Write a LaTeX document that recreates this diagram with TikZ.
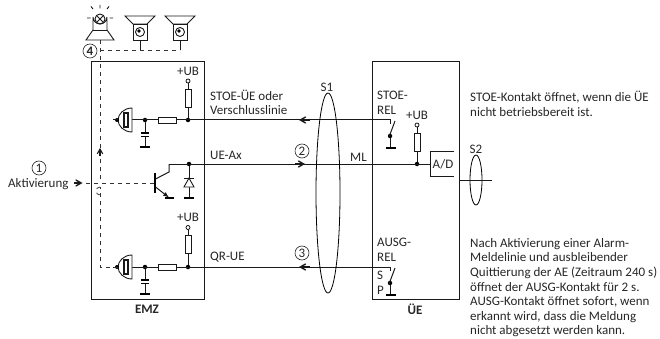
\documentclass[tikz,border=0pt]{standalone}
\usepackage{fontspec}
\setmainfont{Carlito}
\usetikzlibrary{positioning,arrows}
\tikzset{
	wire/.style={line width=1pt,black!90},
	chev/.style={wire,->,>=angle 60,line width=1.4pt},
	dashline/.style={line width=0.8pt,dash pattern=on 4pt off 4pt,black!80},
	widget/.style={draw,line width=0.9pt,black!90,inner sep=0pt},
	bar/.style={line width=1.6pt,black},
	resH/.style={widget,fill=white,minimum width=18pt,minimum height=6pt},
	resV/.style={widget,fill=white,minimum width=6pt,minimum height=18pt},
	dotnode/.style={circle,fill=black,inner sep=0pt,minimum size=4.5pt},
	opencirc/.style={circle,draw,fill=white,line width=0.7pt,inner sep=0pt,minimum size=4pt},
	numcirc/.style={circle,draw,line width=0.6pt,black!85,fill=white,inner sep=0pt,minimum size=14pt,font=\fontsize{13}{13}\selectfont},
	unit/.style={draw,line width=1.4pt,black!90,anchor=north west},
	txt/.style={inner sep=0pt,anchor=west,text=black!85,font=\fontsize{13}{14.6}\selectfont},
	para/.style={txt,align=left,anchor=north west}
}
\begin{document}
\begin{tikzpicture}[x=1pt,y=-1pt]
	\useasboundingbox (0,0) rectangle (660,339);
	% boxes
	\node[unit,minimum width=113pt,minimum height=238pt] (emz) at (91,61) {};
	\node[unit,minimum width=87pt,minimum height=238pt] (ue) at (372,61) {};
	\node[txt,anchor=center,font=\fontsize{13}{14}\bfseries\selectfont] (emzlabel) at (147,309) {EMZ};
	\node[txt,anchor=center,font=\fontsize{13}{14}\bfseries\selectfont] (uelabel) at (415,309) {ÜE};
	% junctions
	\node[dotnode] (a1) at (145,120) {};
	\node[dotnode] (b1) at (188,120) {};
	\node[dotnode] (b2) at (189,164) {};
	\node[dotnode] (a3) at (145,267) {};
	\node[dotnode] (b3) at (188,267) {};
	\node[dotnode] (ml) at (417,164) {};
	\coordinate (sw1) at (390,120);
	\coordinate (sw3) at (390,267);
	\coordinate (ad) at (430,164);
	% wires
	\draw[wire] (132,120) -- (sw1) -- (390,124);
	\draw[wire] (169,164) -- (ad);
	\draw[wire] (132,267) -- (sw3) -- (390,271);
	\coordinate (ar1) at (299,120);
	\coordinate (ar2) at (305,164);
	\coordinate (ar3) at (299,267);
	\draw[chev] (310,120) -- (ar1);
	\draw[chev] (295,164) -- (ar2);
	\draw[chev] (310,267) -- (ar3);
	% resistors with supply
	\foreach \n/\x/\y/\t in {u1/188/98/+UB,u2/188/244.5/+UB,u3/417/142/+UB} {
		\node[resV] (r\n) at (\x,\y) {};
		\node[opencirc] (c\n) at (\x,\y-17) {};
		\node[txt,anchor=center] (t\n) at (\x,\y-27) {\t};
	}
	\draw[wire] (cu1) -- (ru1) -- (b1);
	\draw[wire] (cu2) -- (ru2) -- (b3);
	\draw[wire] (cu3) -- (ru3) -- (ml);
	\node[resH] (rh1) at (167,120) {};
	\node[resH] (rh3) at (167,267) {};
	% caps and horns
	\foreach \n/\y in {1/120,3/267} {
		\draw[wire] (a\n) -- (145,\y+27);
		\draw[white,line width=2pt] (145,\y+13) -- (145,\y+16);
		\draw[bar] (141,\y+13) -- (149,\y+13);
		\draw[bar] (141,\y+16.5) -- (149,\y+16.5);
		\draw[bar] (140,\y+27) -- (150,\y+27);
		\draw[widget,fill=white] (132,\y-12) .. controls (124,\y-12) and (118,\y-6) .. (118,\y) .. controls (118,\y+6) and (124,\y+12) .. (132,\y+12) -- cycle;
		\fill (117,\y) circle (2);
		\draw[wire] (113,\y) -- (118,\y);
		\draw[widget,line width=1.2pt] (124,\y-7) rectangle (128,\y+7);
	}
	% transistor
	\draw[line width=2pt] (155,173) -- (155,193);
	\draw[wire] (155.5,179) -- (169,172) -- (169,164);
	\draw[wire,-latex] (155.5,187) -- (169,197.5);
	\draw[bar] (165,198) -- (174,198);
	% diode
	\draw[wire] (b2) -- (189,198);
	\draw[widget,fill=white] (184,187) -- (194,187) -- (189,178) -- cycle;
	\draw[wire] (184,178) -- (194,178);
	\draw[bar] (184,198) -- (194,198);
	% dashed lines
	\coordinate (hoplow) at (100,187);
	\coordinate (hoptop) at (100,179);
	\coordinate (arrowtip) at (100,148);
	\draw[dashline] (118,267) -- (100,267) -- (hoplow);
	\draw[dashline] (hoplow) arc (-90:-270:4);
	\draw[dashline,-] (hoptop) -- (arrowtip);
	\draw[chev,line width=1.1pt] (100,156) -- (arrowtip);
	\draw[dashline] (arrowtip) -- (100,40);
	\draw[dashline] (86,183) -- (155,183);
	\draw[dashline] (100,50) -- (180,50);
	\draw[chev] (74,183) -- (82.5,183);
	% bell
	\draw[widget] (93,30) -- (86,40) -- (114,40) -- (107,30);
	\draw[widget] (93,30) -- (107,30);
	\draw[widget] (93,30) -- (93,17) arc (180:0:7) -- (107,30);
	\draw[widget] (100,19) circle (5);
	\draw[widget] (96.5,15.5) -- (103.5,22.5) (96.5,22.5) -- (103.5,15.5);
	\draw[widget] (100,5) -- (100,8.5) (87,18) -- (90.5,18) (109.5,18) -- (113,18)
		(91,6.5) -- (93,9) (109,6.5) -- (107,9);
	% speakers
	\foreach \x in {140,180} {
		\draw[widget] (\x-15,16) -- (\x+15,16) -- (\x+7,24) -- (\x-7,24) -- cycle;
		\draw[widget] (\x-7,24) rectangle (\x+7,40);
		\draw[widget] (\x,32) circle (4.5);
		\fill (\x-1,31) circle (1.8);
		\draw[widget] (\x,40) -- (\x,50);
	}
	% cable loops
	\draw[line width=0.8pt] (328,193) ellipse (12 and 100);
	\draw[line width=0.8pt] (476,180) ellipse (6 and 25);
	\draw[wire] (459,180) -- (492,180);
	% A/D
	\node[txt,anchor=center] (adlabel) at (443,164) {A/D};
	\draw[wire] (454,152) -- (430,152) -- (430,176) -- (454,176);
	% contacts
	\node[dotnode] (c1) at (390,136) {};
	\draw[wire] (395,121) -- (389,137);
	\draw[wire] (c1) -- (390,148);
	\draw[bar] (386,148) -- (396,148);
	\node[dotnode] (c3) at (390,283) {};
	\draw[wire] (395,268) -- (389,284);
	\draw[wire] (c3) -- (390,295);
	\draw[bar] (386,295) -- (396,295);
	% texts
	\node[txt] (t1) at (210,95) {STOE-ÜE oder};
	\node[txt] (t2) at (210,110) {Verschlusslinie};
	\node[txt] (t3) at (210,155) {UE-Ax};
	\node[txt] (t4) at (210,257) {QR-UE};
	\node[txt] (t5) at (350,157) {ML};
	\node[txt,anchor=center] (t6) at (327,87) {S1};
	\node[txt,anchor=center] (t7) at (476,149) {S2};
	\node[txt] (t8) at (377,95) {STOE-};
	\node[txt] (t9) at (377,110) {REL};
	\node[txt] (t10) at (377,242) {AUSG-};
	\node[txt] (t11) at (377,257) {REL};
	\node[txt] (t12) at (377,275) {S};
	\node[txt] (t13) at (377,290) {P};
	\node[txt] (t14) at (8,184) {Aktivierung};
	\node[numcirc] (n1) at (39,168) {1};
	\node[numcirc] (n2) at (302,151) {2};
	\node[numcirc] (n3) at (302,253) {3};
	\node[numcirc,font=\fontsize{13}{13}\bfseries\selectfont] (n4) at (90,51) {4};
	\node[para] (p1) at (470,91) {STOE-Kontakt öffnet, wenn die ÜE\\nicht betriebsbereit ist.};
	\node[para] (p2) at (470,238) {Nach Aktivierung einer Alarm-\\Meldelinie und ausbleibender\\Quittierung der AE (Zeitraum 240 s)\\öffnet der AUSG-Kontakt für 2 s.\\AUSG-Kontakt öffnet sofort, wenn\\erkannt wird, dass die Meldung\\nicht abgesetzt werden kann.};
\end{tikzpicture}
\end{document}
